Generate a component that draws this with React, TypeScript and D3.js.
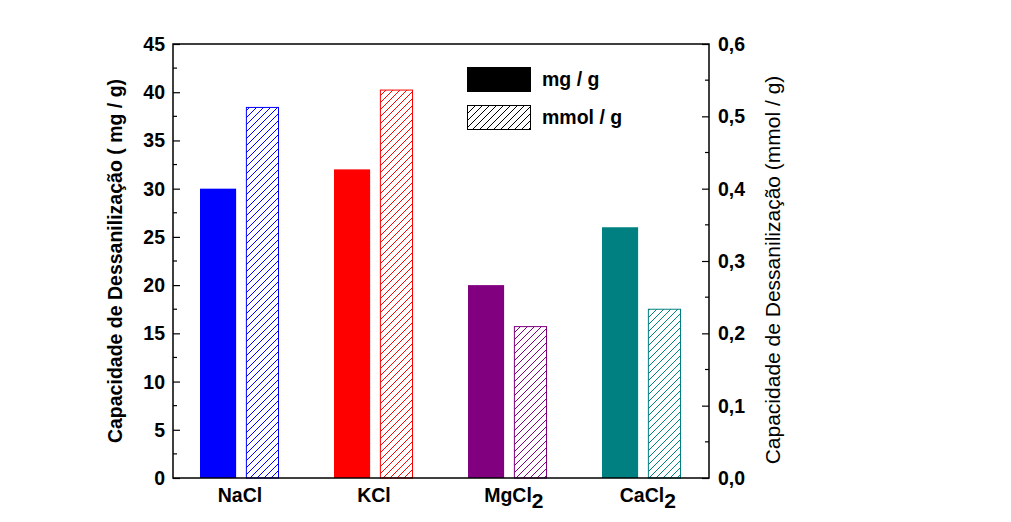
import React, { useEffect, useRef } from 'react';
import * as d3 from 'd3';

const salts = ['NaCl', 'KCl', 'MgCl2', 'CaCl2'];
const saltBase = ['NaCl', 'KCl', 'MgCl', 'CaCl'];
const saltSub = ['', '', '2', '2'];
const saltColors = ['#0000ff', '#ff0000', '#800080', '#008080'];
const mgPerG = [30, 32, 20, 26];
const mmolPerG = [0.513, 0.537, 0.21, 0.234];
const leftTicks = [0, 5, 10, 15, 20, 25, 30, 35, 40, 45];
const rightTicks = [0, 0.1, 0.2, 0.3, 0.4, 0.5, 0.6];
const seriesNames = ['mg / g', 'mmol / g'];

function Chart() {
  const ref = useRef<SVGSVGElement>(null);

  useEffect(() => {
    const svg = d3.select(ref.current);
    svg.selectAll('*').remove();

    const left = 173, right = 709, top = 44, bottom = 478;
    const font = 'Arial, "Liberation Sans", sans-serif';
    const fs = 19.5;

    const x = d3.scaleBand().domain(salts).range([left, right]).padding(0);
    const sub = d3.scaleBand().domain(['mg', 'mmol']).range([27, 106]).paddingInner(0.22);
    const yL = d3.scaleLinear().domain([0, 45]).range([bottom, top]);
    const yR = d3.scaleLinear().domain([0, 0.6]).range([bottom, top]);

    const defs = svg.append('defs');
    const hatch = (id: string, color: string) => {
      const p = defs.append('pattern')
        .attr('id', id)
        .attr('patternUnits', 'userSpaceOnUse')
        .attr('width', 7)
        .attr('height', 7);
      p.append('rect').attr('width', 7).attr('height', 7).attr('fill', 'white');
      p.append('path')
        .attr('d', 'M-1,1 l2,-2 M0,7 l7,-7 M6,8 l2,-2')
        .attr('stroke', color)
        .attr('stroke-width', 1);
    };
    saltColors.forEach((c, i) => hatch('h' + i, c));
    hatch('hk', '#000');

    // bars
    const g = svg.append('g');
    salts.forEach((s, i) => {
      const x0 = x(s)!;
      g.append('rect')
        .attr('x', x0 + sub('mg')!)
        .attr('y', yL(mgPerG[i]))
        .attr('width', sub.bandwidth() + 1.5)
        .attr('height', yL(0) - yL(mgPerG[i]))
        .attr('fill', saltColors[i]);
      g.append('rect')
        .attr('x', x0 + sub('mmol')! + 2)
        .attr('y', yR(mmolPerG[i]) + 0.5)
        .attr('width', sub.bandwidth() - 2.5)
        .attr('height', yR(0) - yR(mmolPerG[i]) - 0.5)
        .attr('fill', `url(#h${i})`)
        .attr('stroke', saltColors[i])
        .attr('stroke-width', 1);
    });

    // frame
    svg.append('rect')
      .attr('x', left).attr('y', top)
      .attr('width', right - left).attr('height', bottom - top)
      .attr('fill', 'none').attr('stroke', '#000').attr('stroke-width', 1.5);

    // left axis
    const axL = svg.append('g').attr('transform', `translate(${left},0)`);
    axL.call(d3.axisRight(yL).tickValues(leftTicks).tickSize(7).tickFormat(() => ''));
    axL.call(g2 => g2.select('.domain').remove());
    axL.selectAll('line').attr('stroke-width', 1.2);
    const minorL = d3.range(2.5, 45, 5);
    axL.selectAll('.minor').data(minorL).enter().append('line')
      .attr('x1', 0).attr('x2', 4)
      .attr('y1', d => yL(d)).attr('y2', d => yL(d))
      .attr('stroke', '#000').attr('stroke-width', 1.2);
    svg.append('g').selectAll('text').data(leftTicks).enter().append('text')
      .attr('x', left - 8).attr('y', d => yL(d) + 7)
      .attr('text-anchor', 'end')
      .attr('font-family', font).attr('font-weight', 'bold').attr('font-size', fs)
      .text(d => String(d));

    // right axis
    const axR = svg.append('g').attr('transform', `translate(${right},0)`);
    axR.call(d3.axisLeft(yR).tickValues(rightTicks).tickSize(7).tickFormat(() => ''));
    axR.call(g2 => g2.select('.domain').remove());
    axR.selectAll('line').attr('stroke-width', 1.2);
    const minorR = d3.range(0.05, 0.6, 0.1);
    axR.selectAll('.minor').data(minorR).enter().append('line')
      .attr('x1', 0).attr('x2', -4)
      .attr('y1', d => yR(d)).attr('y2', d => yR(d))
      .attr('stroke', '#000').attr('stroke-width', 1.2);
    svg.append('g').selectAll('text').data(rightTicks).enter().append('text')
      .attr('x', right + 9).attr('y', d => yR(d) + 7)
      .attr('text-anchor', 'start')
      .attr('font-family', font).attr('font-weight', 'bold').attr('font-size', fs)
      .text(d => d.toFixed(1).replace('.', ','));

    // x labels: base text centred under the group, subscript hangs to the right
    salts.forEach((s, i) => {
      const t = svg.append('text')
        .attr('y', 502)
        .attr('text-anchor', 'start')
        .attr('font-family', font).attr('font-weight', 'bold').attr('font-size', fs);
      const base = t.append('tspan').text(saltBase[i]);
      if (saltSub[i]) {
        t.append('tspan').attr('dy', 6).attr('font-size', 21).text(saltSub[i]);
      }
      const w = (base.node() as SVGTextContentElement).getComputedTextLength();
      t.attr('x', x(s)! + x.bandwidth() / 2 - w / 2);
    });

    // axis titles
    svg.append('text')
      .attr('transform', `translate(122,${(top + bottom) / 2}) rotate(-90)`)
      .attr('text-anchor', 'middle')
      .attr('font-family', font).attr('font-weight', 'bold').attr('font-size', fs)
      .text('Capacidade de Dessanilização ( mg / g)');
    svg.append('text')
      .attr('transform', `translate(780,${(top + bottom) / 2 + 9}) rotate(-90)`)
      .attr('text-anchor', 'middle')
      .attr('font-family', font).attr('font-size', 21)
      .text('Capacidade de Dessanilização (mmol / g)');

    // legend
    const leg = svg.append('g');
    const fills = ['#000', 'url(#hk)'];
    seriesNames.forEach((n, i) => {
      leg.append('rect')
        .attr('x', 467.5).attr('y', 67.5 + i * 38)
        .attr('width', 63).attr('height', 24)
        .attr('fill', fills[i]).attr('stroke', '#000').attr('stroke-width', 1);
      leg.append('text')
        .attr('x', 542).attr('y', 86 + i * 38)
        .attr('font-family', font).attr('font-weight', 'bold').attr('font-size', fs)
        .text(n);
    });
  }, []);

  return (
    <svg ref={ref} width={1011} height={522}
      style={{ position: 'absolute', left: 0, top: 0, background: 'white' }} />
  );
}

export default function App() {
  return <Chart />;
}
